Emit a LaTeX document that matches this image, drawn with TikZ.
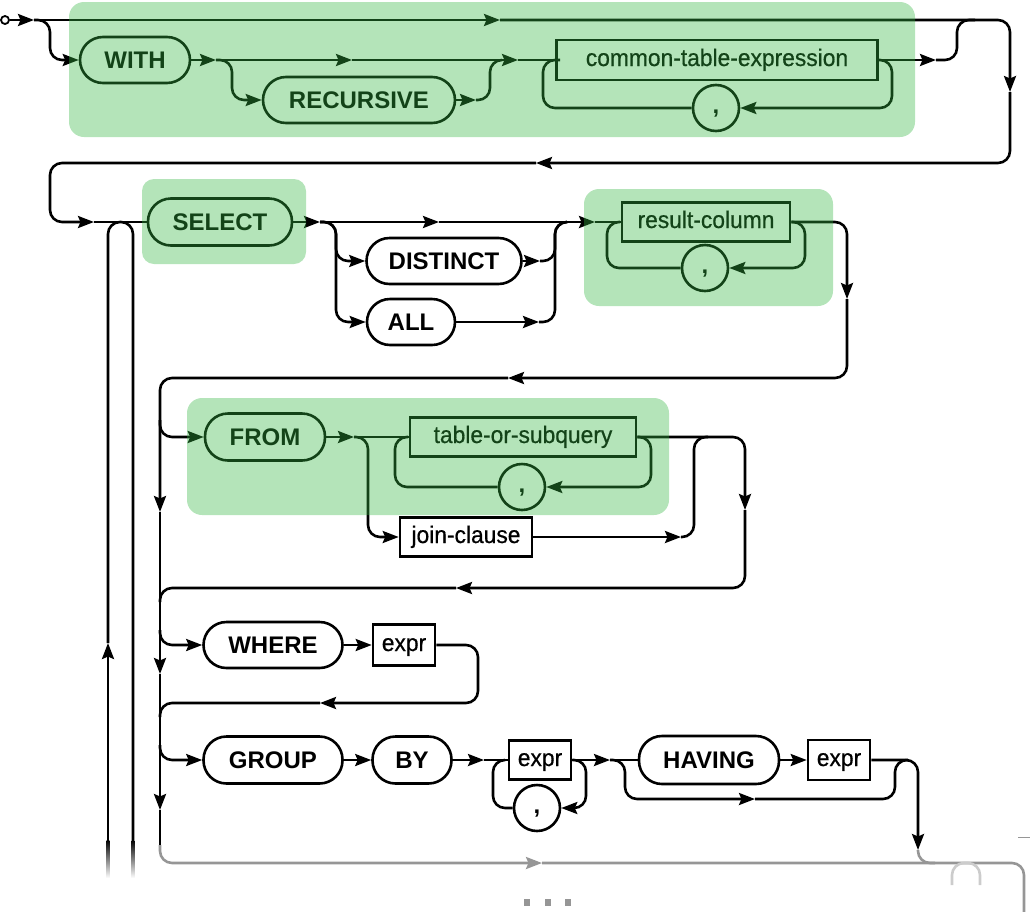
\documentclass[tikz,border=0pt]{standalone}
\usepackage{fontspec}
\setmainfont{Liberation Sans}
\newfontfamily\ntfam[FakeStretch=0.95,FakeBold=0.6]{Liberation Sans}
\usetikzlibrary{arrows.meta}
\newcommand{\kwf}{\fontsize{24}{24}\selectfont\bfseries}
\newcommand{\ntf}{\ntfam\fontsize{24}{24}\selectfont}
\definecolor{hl}{RGB}{52,182,66}
\definecolor{fadeg}{RGB}{150,150,150}
\begin{document}
\begin{tikzpicture}[x=1pt,y=-1pt, line width=2.6pt,
  kwnode/.style={draw, rounded corners=23pt, minimum height=46pt, inner sep=0pt, font=\kwf, fill=white, text height=17.2pt, text depth=0pt},
  ntnode/.style={draw, rectangle, minimum height=39pt, inner sep=0pt, font=\ntf, fill=white, text height=17pt, text depth=5pt},
  commanode/.style={draw, circle, minimum size=46pt, inner sep=0pt, font=\kwf, fill=white, text height=10pt, text depth=0pt},
  rr/.style={rounded corners=12pt},
  arr/.style={-{Stealth[length=16pt,width=12pt,inset=2.5pt]}},
  hlbox/.style={fill=hl, fill opacity=0.37, draw=none, rounded corners=15pt},
  fadedline/.style={draw=fadeg}
]
\useasboundingbox (0,0) rectangle (1030,911);
\clip (0,0) rectangle (1030,911);

% ---------- nodes ----------
\node[circle, draw, minimum size=8pt, inner sep=0pt, line width=1.8pt, fill=white] (start) at (5,20) {};
\node[kwnode, minimum width=110pt] (with) at (135,60) {WITH};
\node[kwnode, minimum width=192pt] (rec) at (359,100) {RECURSIVE};
\node[ntnode, minimum width=321pt, minimum height=40pt] (cte) at (717,60) {common-table-expression};
\node[commanode] (c1) at (716,108) {,};

\node[kwnode, minimum width=144pt, minimum height=47pt] (sel) at (220,222) {SELECT};
\node[kwnode, minimum width=155pt] (dist) at (444,261) {DISTINCT};
\node[kwnode, minimum width=88pt] (all) at (411,322) {ALL};
\node[ntnode, minimum width=168pt] (rc) at (706,222) {result-column};
\node[commanode] (c2) at (705,268) {,};

\node[kwnode, minimum width=120pt, minimum height=47pt] (from) at (265,437) {FROM};
\node[ntnode, minimum width=226pt] (tos) at (523,437) {table-or-subquery};
\node[commanode] (c3) at (522,487) {,};
\node[ntnode, minimum width=132pt] (join) at (466,537) {join-clause};

\node[kwnode, minimum width=139pt] (where) at (273,645) {WHERE};
\node[ntnode, minimum width=62pt, minimum height=41pt] (e1) at (404,645) {expr};

\node[kwnode, minimum width=139pt, minimum height=47pt] (grp) at (273,760) {GROUP};
\node[kwnode, minimum width=79pt, minimum height=47pt] (by) at (412,760) {BY};
\node[ntnode, minimum width=62pt] (e2) at (540,760) {expr};
\node[commanode] (c4) at (537,808) {,};
\node[kwnode, minimum width=140pt, minimum height=48pt] (hav) at (709,760) {HAVING};
\node[ntnode, minimum width=62pt, minimum height=40pt] (e3) at (839,760) {expr};

% ---------- coordinates ----------
\coordinate (j0) at (34,20);
\coordinate (a1) at (500,20);
\coordinate (a2) at (1010,92);
\coordinate (a3) at (536,163);
\coordinate (a4) at (94,222);
\coordinate (j1) at (216,60);
\coordinate (a5) at (352,60);
\coordinate (a6) at (476,100);
\coordinate (j2) at (518,60);
\coordinate (a8) at (936,60);
\coordinate (j3) at (320,222);
\coordinate (a9) at (439,222);
\coordinate (j4) at (595,222);
\coordinate (a10) at (540,261);
\coordinate (a11) at (539,322);
\coordinate (a12) at (847,299);
\coordinate (a13) at (508,378);
\coordinate (v1) at (160,512);
\coordinate (v2) at (160,674);
\coordinate (v3) at (160,810);
\coordinate (v4) at (160,845);
\coordinate (j5) at (354,437);
\coordinate (a15) at (681,537);
\coordinate (a16) at (745,510);
\coordinate (a17) at (456,588);
\coordinate (a18) at (320,703);
\coordinate (j6) at (484,760);
\coordinate (j7) at (610,760);
\coordinate (a19) at (755,799);
\coordinate (a20) at (918,850);
\coordinate (a14) at (542,863);
\coordinate (lb) at (108,840);
\coordinate (lup) at (108,643);
\coordinate (rb) at (133,840);

% ---------- row 1 ----------
\draw[arr] (start) -- (j0);
\draw[arr] (j0) -- (a1);
\draw[arr, rr] (a1) -- (1010,20) -- (a2);
\draw[arr, rr] (a2) -- (1010,163) -- (a3);
\draw[arr, rr] (a3) -- (50,163) -- (50,222) -- (a4);
\draw (a4) -- (sel);
\draw[arr, rr] (j0) -- (50,20) -- (50,60) -- (with);
\draw[arr] (with) -- (j1);
\draw[arr] (j1) -- (a5);
\draw[arr] (a5) -- (j2);
\draw[arr, rr] (j1) -- (232,60) -- (232,100) -- (rec);
\draw[arr] (rec) -- (a6);
\draw[rr] (a6) -- (490,100) -- (490,60) -- (502,60);
\draw (j2) -- (cte);
\draw[rr] (c1) -- (543,108) -- (543,60) -- (560,60);
\draw[arr, rr] (cte.east) -- (892,60) -- (892,108) -- (c1);
\draw[arr] (cte.east) -- (a8);
\draw[rr] (a8) -- (957,60) -- (957,20) -- (975,20);

% ---------- loop-back arch ----------
\draw[arr] (lb) -- (lup);
\draw[rr] (lup) -- (108,222) -- (133,222) -- (rb);
\shade[top color=black, bottom color=white] (106.7,840) rectangle (109.3,878);
\shade[top color=black, bottom color=white] (131.7,840) rectangle (134.3,878);

% ---------- SELECT ----------
\draw[arr] (sel) -- (j3);
\draw[arr] (j3) -- (a9);
\draw[arr] (a9) -- (j4);
\draw[arr, rr] (j3) -- (336,222) -- (336,261) -- (dist);
\draw[arr, rr] (j3) -- (336,222) -- (336,322) -- (all);
\draw[arr] (dist) -- (a10);
\draw[rr] (a10) -- (555,261) -- (555,222) -- (567,222);
\draw[arr] (all) -- (a11);
\draw[rr] (a11) -- (555,322) -- (555,222) -- (567,222);
\draw (j4) -- (rc);
\draw[rr] (c2) -- (607,268) -- (607,222) -- (620,222);
\draw[arr, rr] (rc.east) -- (805,222) -- (805,268) -- (c2);
\draw[arr, rr] (rc.east) -- (847,222) -- (a12);
\draw[arr, rr] (a12) -- (847,378) -- (a13);
\draw[arr, rr] (a13) -- (160,378) -- (v1);
\draw[arr] (v1) -- (v2);
\draw[arr] (v2) -- (v3);
\draw (v3) -- (v4);

% ---------- FROM ----------
\draw[arr, rr] (160,420) -- (160,437) -- (from);
\draw[arr] (from) -- (j5);
\draw (j5) -- (tos);
\draw[rr] (c3) -- (395,487) -- (395,437) -- (408,437);
\draw[arr, rr] (tos.east) -- (651,437) -- (651,487) -- (c3);
\draw[arr, rr] (j5) -- (368,437) -- (368,537) -- (join);
\draw[arr] (join) -- (a15);
\draw[rr] (a15) -- (694,537) -- (694,437) -- (708,437);
\draw[arr, rr] (tos.east) -- (745,437) -- (a16);
\draw[arr, rr] (a16) -- (745,588) -- (a17);
\draw[rr] (a17) -- (160,588) -- (160,602);

% ---------- WHERE ----------
\draw[arr, rr] (160,630) -- (160,645) -- (where);
\draw[arr] (where) -- (e1);
\draw[arr, rr] (e1) -- (478,645) -- (478,703) -- (a18);
\draw[rr] (a18) -- (160,703) -- (160,717);

% ---------- GROUP BY / HAVING ----------
\draw[arr, rr] (160,745) -- (160,760) -- (grp);
\draw[arr] (grp) -- (by);
\draw[arr] (by) -- (j6);
\draw (j6) -- (e2);
\draw[rr] (c4) -- (493,808) -- (493,760) -- (505,760);
\draw[arr, rr] (e2.east) -- (586,760) -- (586,808) -- (c4);
\draw[arr] (e2) -- (j7);
\draw (j7) -- (hav);
\draw[arr] (hav) -- (e3);
\draw[arr, rr] (j7) -- (625,760) -- (625,799) -- (a19);
\draw[rr] (a19) -- (895,799) -- (895,760) -- (908,760);
\draw[arr, rr] (e3) -- (918,760) -- (a20);
\draw[fadedline, rr] (a20) -- (918,863) -- (935,863);

% ---------- faded bottom ----------
\draw[fadedline, arr, rr] (v4) -- (160,863) -- (a14);
\draw[fadedline, rr] (a14) -- (1024,863) -- (1024,915);
\draw[draw=black!20, rr] (952,885) -- (952,863) -- (980,863) -- (980,885);
\draw[fadedline, line width=1pt] (1018,837) -- (1030,837);
\fill[fadeg] (524,899) rectangle (530,906);
\fill[fadeg] (545,899) rectangle (551,906);
\fill[fadeg] (565,899) rectangle (571,906);

% ---------- highlight overlays ----------
\fill[hlbox] (69,2) rectangle (915,137);
\fill[hlbox, rounded corners=12pt] (142,179) rectangle (306,264);
\fill[hlbox] (584,189) rectangle (833,306);
\fill[hlbox] (187,398) rectangle (669,515);
\end{tikzpicture}
\end{document}
